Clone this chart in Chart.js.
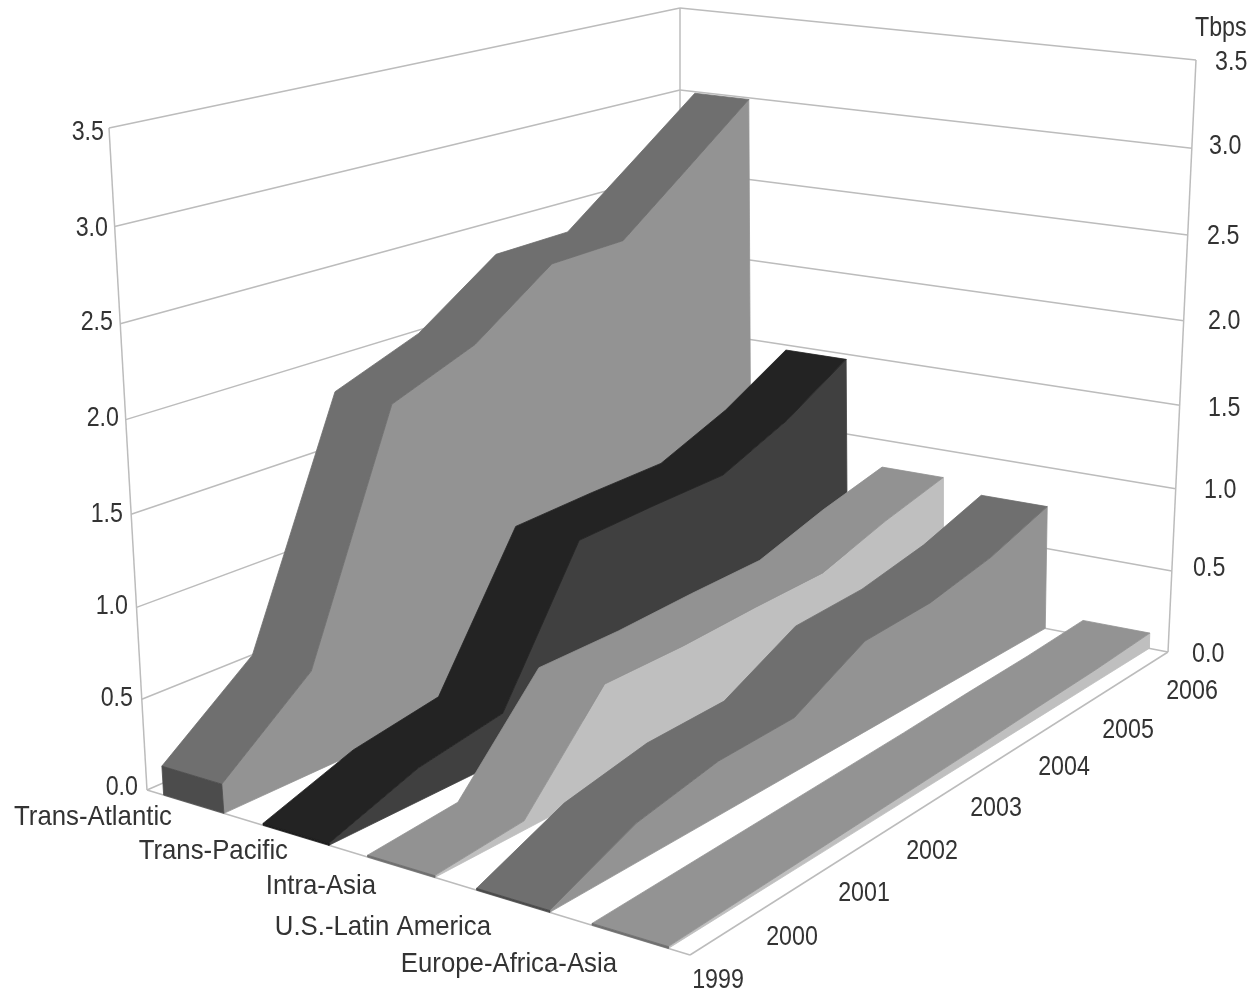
<!DOCTYPE html>
<html>
<head>
<meta charset="utf-8">
<style>
  html, body { margin: 0; padding: 0; background: #fff; }
</style>
<script src="https://cdn.jsdelivr.net/npm/chart.js@4/dist/chart.umd.js"></script>
</head>
<body>
<canvas id="chart" width="1251" height="994"></canvas>
<script>
// Datos
var categories = ['Trans-Atlantic', 'Trans-Pacific', 'Intra-Asia', 'U.S.-Latin America', 'Europe-Africa-Asia'];
var years = ['1999', '2000', '2001', '2002', '2003', '2004', '2005', '2006'];
var valueTicks = [0, 0.5, 1, 1.5, 2, 2.5, 3, 3.5];
var transAtlantic = [0.16, 0.56, 1.85, 2.03, 2.35, 2.36, 2.68, 2.99];
var transPacific = [0.01, 0.18, 0.26, 1.04, 1.06, 1.07, 1.24, 1.47];
var intraAsia = [0.01, 0.05, 0.57, 0.57, 0.59, 0.6, 0.73, 0.83];
var usLatinAmerica = [0.01, 0.21, 0.3, 0.31, 0.53, 0.55, 0.63, 0.76];
var europeAfricaAsia = [0.01, 0.02, 0.03, 0.04, 0.05, 0.065, 0.075, 0.095];
var allSeries = [transAtlantic, transPacific, intraAsia, usLatinAmerica, europeAfricaAsia];

// Colores [arriba, lado, frente]
var colors = [
    ['#6f6f6f', '#939393', '#4c4c4c'],
    ['#232323', '#404040', '#1c1c1c'],
    ['#929292', '#bfbfbf', '#6f6f6f'],
    ['#6f6f6f', '#939393', '#4a4a4a'],
    ['#939393', '#bfbfbf', '#6f6f6f']
];
var gridColor = '#bcbcbc';
var textColor = '#333333';

// Posicion de los textos
var leftTickPos = [[138, 787], [133, 698], [128, 606], [123, 514], [119, 418], [113, 322], [108, 228], [104, 132]];
var rightTickPos = [[1192, 654], [1193, 568], [1204, 490], [1208, 408], [1208, 321], [1207, 236], [1209, 146], [1215, 62]];
var categoryPos = [[172, 817], [288, 851], [376, 886], [491, 927], [617, 964]];
var yearPos = [[718, 980], [792, 937], [864, 893], [932, 851], [996, 808], [1064, 767], [1128, 730], [1192, 691]];

// Perspectiva: esquinas del suelo y del techo, y ancho de cada banda
var ribbonEdges = [[0.036, 0.163], [0.243, 0.373], [0.447, 0.571], [0.646, 0.772], [0.843, 0.966]];
var floorMap = quadMap([147, 790], [690, 955], [1168, 652], [680, 558]);
var topMap = quadMap([109, 128], [670, 261], [1196, 60], [680, 8]);
var heightBend = 0.05;

function quadMap(p0, p1, p2, p3) {
    var dx1 = p1[0] - p2[0], dx2 = p3[0] - p2[0], sx = p0[0] - p1[0] + p2[0] - p3[0];
    var dy1 = p1[1] - p2[1], dy2 = p3[1] - p2[1], sy = p0[1] - p1[1] + p2[1] - p3[1];
    var det = dx1 * dy2 - dx2 * dy1;
    var g = (sx * dy2 - dx2 * sy) / det;
    var h = (dx1 * sy - sx * dy1) / det;
    var a = p1[0] - p0[0] + g * p1[0], b = p3[0] - p0[0] + h * p3[0];
    var d = p1[1] - p0[1] + g * p1[1], e = p3[1] - p0[1] + h * p3[1];
    return function(s, t) {
        var w = g * s + h * t + 1;
        return [(a * s + b * t + p0[0]) / w, (d * s + e * t + p0[1]) / w];
    };
}

function project(s, t, value) {
    var u = value / 3.5;
    var z = u / (1 + heightBend * (1 - u));
    var f = floorMap(s, t), c = topMap(s, t);
    return { x: f[0] + (c[0] - f[0]) * z, y: f[1] + (c[1] - f[1]) * z };
}

var layers = [];   // se pinta de atras hacia delante
function addPoly(points, color) {
    layers.push({
        data: points.concat([points[0]]),
        showLine: true,
        fill: 'shape',
        backgroundColor: color,
        borderColor: color,
        borderWidth: 0.8,
        pointRadius: 0,
        tension: 0
    });
}
function addLine(p, q) {
    layers.push({
        data: [p, q],
        showLine: true,
        fill: false,
        borderColor: gridColor,
        borderWidth: 1.5,
        pointRadius: 0
    });
}

// Paredes
valueTicks.forEach(function(v) {
    addLine(project(0, 0, v), project(0, 1, v));
    addLine(project(0, 1, v), project(1, 1, v));
});
addLine(project(0, 0, 0), project(0, 0, 3.5));
addLine(project(0, 1, 0), project(0, 1, 3.5));
addLine(project(1, 1, 0), project(1, 1, 3.5));
addLine(project(0, 0, 0), project(1, 0, 0));
addLine(project(1, 0, 0), project(1, 1, 0));

// Series
allSeries.forEach(function(values, i) {
    var s0 = ribbonEdges[i][0];
    var s1 = ribbonEdges[i][1];
    var last = years.length - 1;
    var side = [], upper = [];
    values.forEach(function(v, j) {
        side.push(project(s1, j / last, v));
        upper.push(project(s0, j / last, v));
    });
    var sideBase = [], upperBack = [];
    for (var j = last; j >= 0; j--) {
        sideBase.push(project(s1, j / last, 0));
        upperBack.push(project(s1, j / last, values[j]));
    }
    addPoly(side.concat(sideBase), colors[i][1]);
    addPoly(upper.concat(upperBack), colors[i][0]);
    addPoly([
        project(s0, 0, values[0]), project(s1, 0, values[0]),
        project(s1, 0, 0), project(s0, 0, 0)
    ], colors[i][2]);
});

// Texto estrecho: la fuente original es condensada
function narrowText(c, text, pos, align, squeeze) {
    c.save();
    c.translate(pos[0], pos[1]);
    c.scale(squeeze, 1);
    c.textAlign = align;
    c.fillText(text, 0, 0);
    c.restore();
}

var axisLabels = {
    id: 'axisLabels',
    afterDatasetsDraw: function(chart) {
        var c = chart.ctx;
        c.save();
        c.font = '28px "Liberation Sans", sans-serif';
        c.fillStyle = textColor;
        c.textBaseline = 'middle';
        valueTicks.forEach(function(v, i) {
            narrowText(c, v.toFixed(1), leftTickPos[i], 'right', 0.83);
            narrowText(c, v.toFixed(1), rightTickPos[i], 'left', 0.83);
        });
        categories.forEach(function(name, i) {
            narrowText(c, name, categoryPos[i], 'right', 0.92);
        });
        years.forEach(function(y, i) {
            narrowText(c, y, yearPos[i], 'center', 0.83);
        });
        narrowText(c, 'Tbps', [1195, 28], 'left', 0.83);
        c.restore();
    }
};

new Chart(document.getElementById('chart'), {
    type: 'scatter',
    data: { datasets: layers.reverse() },
    options: {
        responsive: false,
        animation: false,
        devicePixelRatio: 1,
        layout: { padding: 0 },
        plugins: { legend: { display: false }, tooltip: { enabled: false } },
        scales: {
            x: { type: 'linear', min: 0, max: 1251, display: false },
            y: { type: 'linear', min: 0, max: 994, reverse: true, display: false }
        }
    },
    plugins: [axisLabels]
});
</script>
</body>
</html>
